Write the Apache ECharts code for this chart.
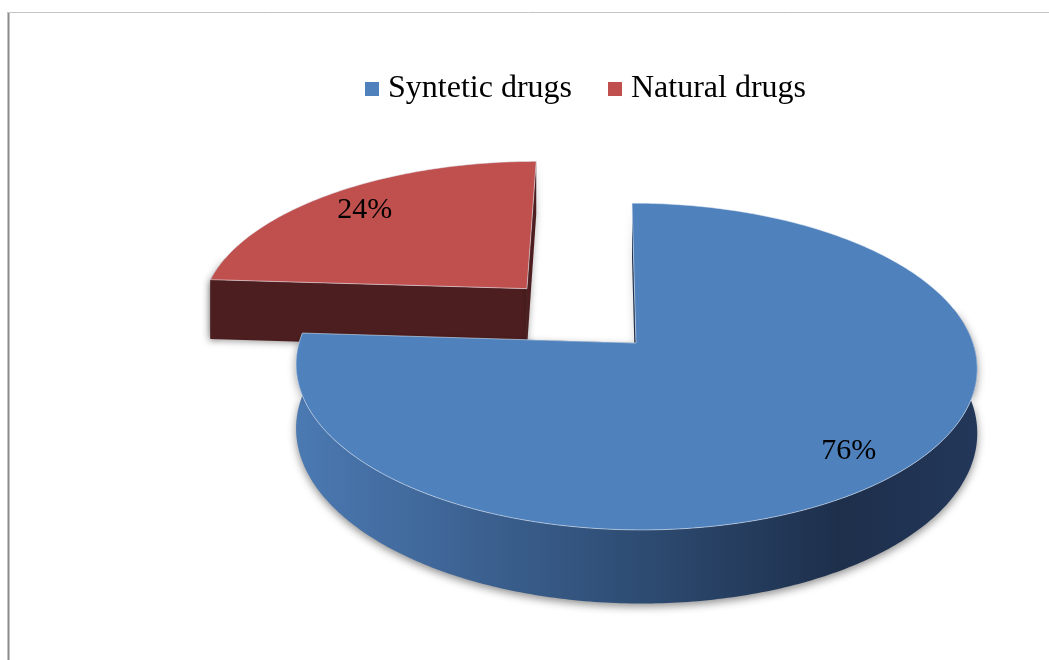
<!DOCTYPE html>
<html>
<head>
<meta charset="utf-8">
<script src="https://cdn.jsdelivr.net/npm/echarts@6/dist/echarts.min.js"></script>
<style>
  html, body { margin: 0; padding: 0; background: #ffffff; }
  #chart { width: 1049px; height: 660px; }
</style>
</head>
<body>
<div id="chart"></div>
<script>
// Share of drugs by origin
const categories = ['Syntetic drugs', 'Natural drugs'];
const shares = [76, 24];

// Look of each slice: top face, cut faces, outer wall
const topColors = ['#4f81bd', '#c0504d'];
const cutColors = ['#1f3350', '#4d1e1f'];
const wallStops = [
  [[0, '#4b79b2'], [0.45, '#31517a'], [0.8, '#1d2f4b'], [1, '#23375a']],
  [[0, '#5a2323'], [1, '#3e1818']]
];
const explodeBy = [0, 0.49];

// Tilted perspective view of the pie disc (radius = 1)
const view = { cx: 636, cy: 343, k: 337, kz: 160, p: 0.144, shear: -0.0286, depth: 63 };
const total = shares.reduce((a, b) => a + b, 0);

// X runs right, Z runs away from the viewer; lift 0 = top face, 1 = base
function project(X, Z, lift) {
  const w = 1 + view.p * Z;
  const up = view.kz * Z / w;
  return [view.cx + view.k * X / w + view.shear * up, view.cy - up + lift * view.depth / w];
}

// angle is measured clockwise from 12 o'clock
function rimPoint(off, a, r, lift) {
  return project(off[0] + r * Math.sin(a), off[1] + r * Math.cos(a), lift);
}

function arcPoints(off, a0, a1, lift) {
  const n = Math.max(2, Math.ceil(Math.abs(a1 - a0) / (Math.PI / 240)) + 1);
  const pts = [];
  for (let j = 0; j < n; j++) {
    pts.push(rimPoint(off, a0 + (a1 - a0) * j / (n - 1), 1, lift));
  }
  return pts;
}

function makeRenderer(i) {
  return function (params, api) {
    const value = api.value(0);
    const before = shares.slice(0, i).reduce((a, b) => a + b, 0);
    const a0 = 2 * Math.PI * before / total;
    const a1 = a0 + 2 * Math.PI * value / total;
    const mid = (a0 + a1) / 2;
    const off = [explodeBy[i] * Math.sin(mid), explodeBy[i] * Math.cos(mid)];
    const apexTop = project(off[0], off[1], 0);
    const apexBase = project(off[0], off[1], 1);
    const children = [];

    // outer wall, only the part turned towards the viewer
    const w0 = Math.max(a0, Math.PI / 2 - 0.22);
    const w1 = Math.min(a1, 3 * Math.PI / 2 + 0.22);
    if (w1 > w0) {
      const topArc = arcPoints(off, w0, w1, 0);
      const baseArc = arcPoints(off, w0, w1, 1).reverse();
      children.push({
        type: 'polygon',
        shape: { points: topArc.concat(baseArc) },
        style: {
          fill: new echarts.graphic.LinearGradient(0, 0, 1, 0,
            wallStops[i].map(s => ({ offset: s[0], color: s[1] }))),
          shadowBlur: 9, shadowOffsetY: 3, shadowColor: 'rgba(0,0,0,0.45)'
        }
      });
    }

    // the two cut faces along the radii
    [a0, a1].forEach(a => {
      const rimTop = rimPoint(off, a, 1, 0);
      const rimBase = rimPoint(off, a, 1, 1);
      children.push({
        type: 'polygon',
        shape: { points: [apexTop, rimTop, rimBase, apexBase] },
        style: {
          fill: cutColors[i],
          shadowBlur: 6, shadowOffsetY: 2, shadowColor: 'rgba(0,0,0,0.35)'
        }
      });
    });

    // top face
    children.push({
      type: 'polygon',
      shape: { points: [apexTop].concat(arcPoints(off, a0, a1, 0)) },
      style: { fill: topColors[i], stroke: 'rgba(225,235,245,0.55)', lineWidth: 1 }
    });

    // percentage label on the top face
    const lp = rimPoint(off, mid, 0.83, 0);
    children.push({
      type: 'text',
      style: {
        text: Math.round(value / total * 100) + '%',
        x: lp[0], y: lp[1] + 2,
        align: 'center', verticalAlign: 'middle',
        font: '30px "Liberation Serif", "Times New Roman", serif',
        fill: '#000000'
      }
    });

    return { type: 'group', children: children };
  };
}

const chart = echarts.init(document.getElementById('chart'), null, { renderer: 'canvas' });

chart.setOption({
  animation: false,
  backgroundColor: '#ffffff',
  legend: {
    data: categories,
    left: 360,
    top: 67,
    icon: 'rect',
    itemWidth: 14,
    itemHeight: 14,
    itemGap: 36,
    textStyle: {
      fontFamily: '"Liberation Serif", "Times New Roman", serif',
      fontSize: 32,
      lineHeight: 34,
      padding: [0, 0, 0, 4],
      color: '#000000'
    }
  },
  graphic: [
    { type: 'line', shape: { x1: 8.5, y1: 12, x2: 8.5, y2: 660 },
      style: { stroke: '#8a8a8a', lineWidth: 2 }, silent: true },
    { type: 'line', shape: { x1: 8, y1: 12.5, x2: 1049, y2: 12.5 },
      style: { stroke: '#c4c4c4', lineWidth: 1 }, silent: true }
  ],
  series: categories.map((name, i) => ({
    type: 'custom',
    name: name,
    coordinateSystem: 'none',
    z: i === 0 ? 3 : 2,
    itemStyle: { color: topColors[i] },
    data: [shares[i]],
    renderItem: makeRenderer(i)
  }))
});
</script>
</body>
</html>
